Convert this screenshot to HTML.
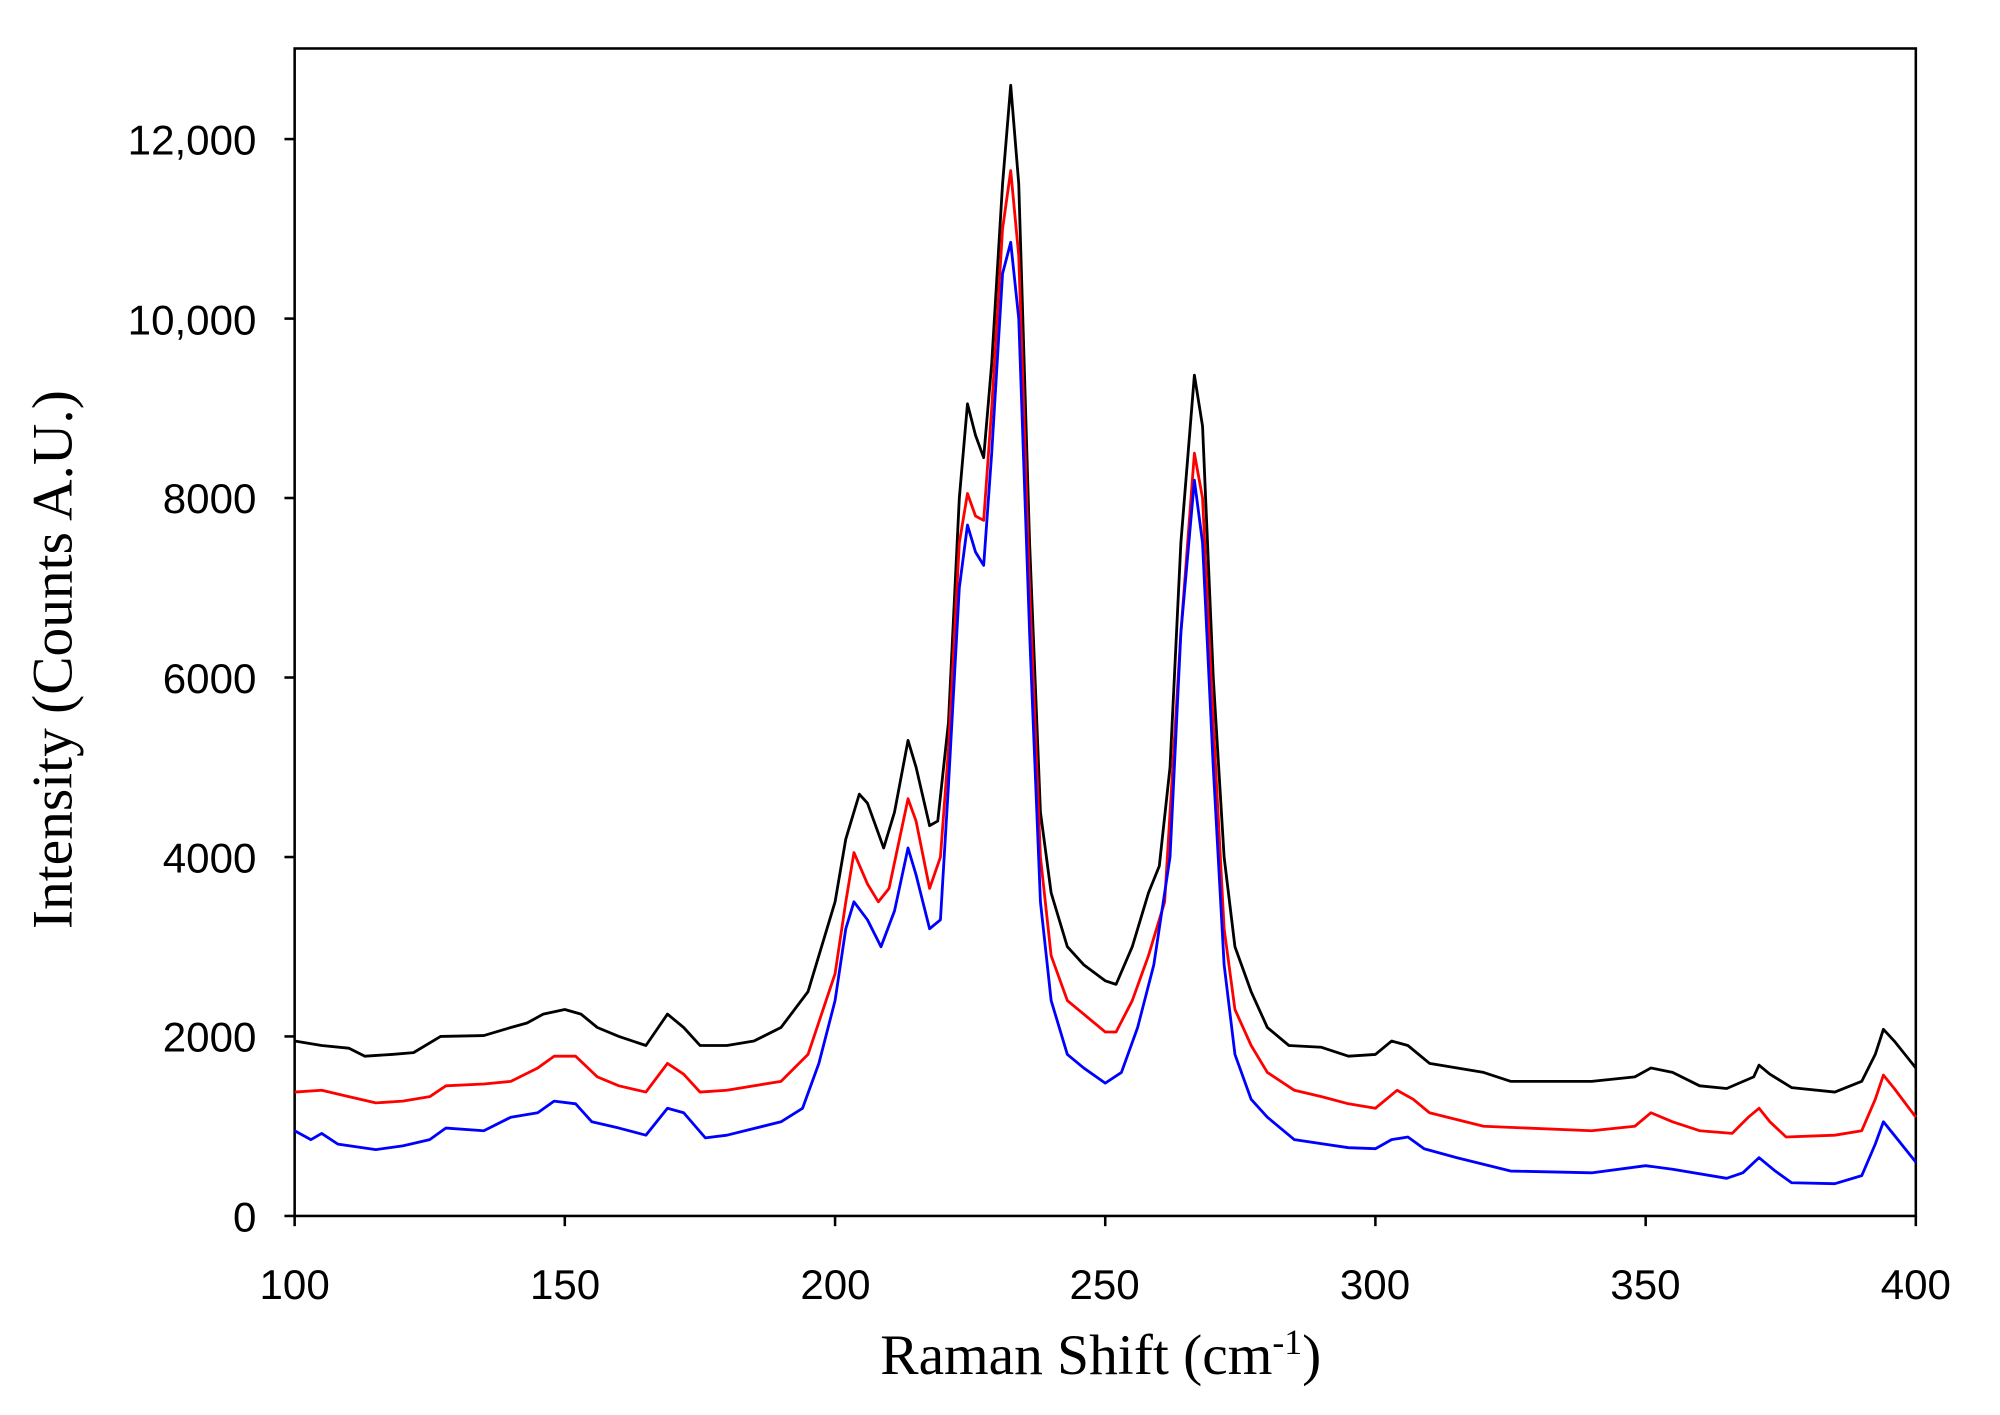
<!DOCTYPE html>
<html><head><meta charset="utf-8"><style>html,body{margin:0;padding:0;background:#fff}svg{display:block}</style></head>
<body>
<svg id="s" width="2000" height="1415" viewBox="0 0 1568 1109" preserveAspectRatio="none" xmlns="http://www.w3.org/2000/svg">
<rect width="1568" height="1109" fill="#fff"/>
<rect x="231" y="38" width="1271" height="915" fill="none" stroke="#000" stroke-width="2"/>
<g stroke="#000" stroke-width="2">
<line x1="223" y1="953" x2="231" y2="953"/><line x1="223" y1="812.3" x2="231" y2="812.3"/><line x1="223" y1="671.7" x2="231" y2="671.7"/><line x1="223" y1="531" x2="231" y2="531"/><line x1="223" y1="390.3" x2="231" y2="390.3"/><line x1="223" y1="249.7" x2="231" y2="249.7"/><line x1="223" y1="109" x2="231" y2="109"/>
<line x1="231" y1="953" x2="231" y2="961"/><line x1="442.8" y1="953" x2="442.8" y2="961"/><line x1="654.7" y1="953" x2="654.7" y2="961"/><line x1="866.5" y1="953" x2="866.5" y2="961"/><line x1="1078.3" y1="953" x2="1078.3" y2="961"/><line x1="1290.2" y1="953" x2="1290.2" y2="961"/><line x1="1502" y1="953" x2="1502" y2="961"/>
</g>
<g font-family="Liberation Sans, sans-serif" font-size="33" fill="#000" text-anchor="end">
<text x="201" y="965">0</text><text x="201" y="824">2000</text><text x="201" y="684">4000</text><text x="201" y="543">6000</text><text x="201" y="402">8000</text><text x="201" y="262">10,000</text><text x="201" y="121">12,000</text>
</g>
<g font-family="Liberation Sans, sans-serif" font-size="33" fill="#000" text-anchor="middle">
<text x="231" y="1018">100</text><text x="443" y="1018">150</text><text x="655" y="1018">200</text><text x="866" y="1018">250</text><text x="1078" y="1018">300</text><text x="1290" y="1018">350</text><text x="1502" y="1018">400</text>
</g>
<text x="863" y="1077" font-family="Liberation Serif, serif" font-size="45" text-anchor="middle">Raman Shift (cm<tspan dy="-16" font-size="28">-1</tspan><tspan dy="16">)</tspan></text>
<text transform="translate(56,517) rotate(-90)" font-family="Liberation Serif, serif" font-size="45" text-anchor="middle">Intensity (Counts A.U.)</text>
<g id="g" fill="none" stroke-width="2.2" stroke-linejoin="round"></g>
</svg>
<script>
var K={"#000":[100,1950,105,1900,110,1870,113,1780,118,1800,122,1820,127,2000,135,2010,140,2100,143,2150,146,2250,150,2300,153,2250,156,2100,160,2000,165,1900,169,2250,172,2100,175,1900,180,1900,185,1950,190,2100,195,2500,200,3500,202,4200,204.5,4700,206,4600,209,4100,211,4500,213.5,5300,215,5000,217.5,4350,219,4400,221,5500,223,8000,224.5,9050,226,8700,227.5,8450,229,9500,231,11500,232.5,12600,234,11500,236,7500,238,4500,240,3600,243,3000,246,2800,250,2620,252,2580,255,3000,258,3600,260,3900,262,5000,264,7500,266.5,9370,268,8800,270,6000,272,4000,274,3000,277,2500,280,2100,284,1900,290,1880,295,1780,300,1800,303,1950,306,1900,310,1700,320,1600,325,1500,340,1500,348,1550,351,1650,355,1600,360,1450,365,1420,370,1550,371,1680,373,1580,377,1430,385,1380,390,1500,392.5,1800,394,2080,396,1950,400,1650],
"#f00":[100,1380,105,1400,110,1330,115,1260,120,1280,125,1330,128,1450,135,1470,140,1500,145,1650,148,1780,152,1780,156,1550,160,1450,165,1380,169,1700,172,1580,175,1380,180,1400,190,1500,195,1800,200,2700,202,3500,203.5,4050,206,3700,208,3500,210,3650,213.5,4650,215,4400,217.5,3650,219.5,4000,221,5200,223,7500,224.5,8050,226,7800,227.5,7750,229,9000,231,11000,232.5,11650,234,10700,236,7000,238,4000,240,2900,243,2400,246,2250,250,2050,252,2050,255,2400,258,2900,261,3500,264,6500,266.5,8500,268,8000,270,5500,272,3200,274,2300,277,1900,280,1600,285,1400,290,1330,295,1250,300,1200,304,1400,307,1300,310,1150,320,1000,340,950,348,1000,351,1150,355,1050,360,950,366,920,369,1100,371,1200,373,1050,376,880,385,900,390,950,392.5,1300,394,1570,396,1420,400,1100],
"#00f":[100,950,103,850,105,920,108,800,115,740,120,780,125,850,128,980,135,950,140,1100,145,1150,148,1280,152,1250,155,1050,160,980,165,900,169,1200,172,1150,176,870,180,900,190,1050,194,1200,197,1700,200,2400,202,3200,203.5,3500,206,3300,208.5,3000,211,3400,213.5,4100,215,3800,217.5,3200,219.5,3300,221,4800,223,7000,224.5,7700,226,7400,227.5,7250,229,8500,231,10500,232.5,10850,234,10000,236,6500,238,3500,240,2400,243,1800,246,1650,250,1480,253,1600,256,2100,259,2800,262,4000,264,6500,266.5,8200,268,7500,270,5000,272,2800,274,1800,277,1300,280,1100,285,850,295,760,300,750,303,850,306,880,309,750,315,650,325,500,340,480,350,560,355,520,365,420,368,480,371,650,374,500,377,370,385,360,390,450,392.5,800,394,1050,396,900,400,600]};
var g=document.getElementById("g"),h="";
for(var c in K){var a=K[c],p=[];for(var i=0;i<a.length;i+=2){p.push((231+(a[i]-100)*1271/300).toFixed(1)+","+(953-a[i+1]*0.07033).toFixed(1));}
h+='<polyline stroke="'+c+'" points="'+p.join(" ")+'"/>';}
g.innerHTML=h;
</script>
</body></html>
